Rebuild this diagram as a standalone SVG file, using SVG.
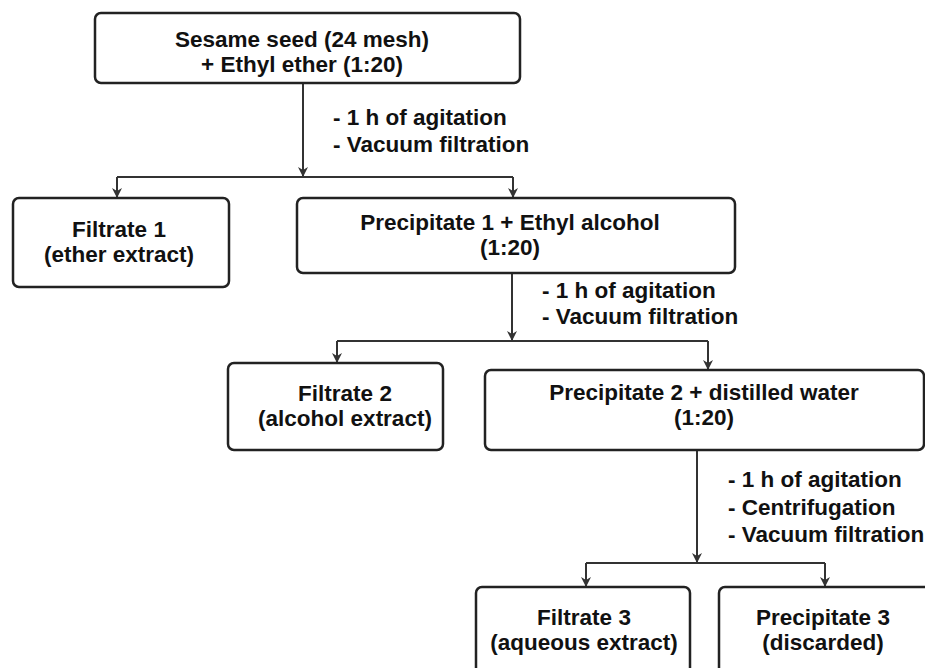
<svg xmlns="http://www.w3.org/2000/svg" width="925" height="668" viewBox="0 0 925 668">
<defs>
<style>
.box{fill:#fff;stroke:#222;stroke-width:2.5}
.t{font-family:"Liberation Sans",Arial,sans-serif;font-weight:bold;font-size:22.5px;fill:#111;text-anchor:middle}
.l{font-family:"Liberation Sans",Arial,sans-serif;font-weight:bold;font-size:22.5px;fill:#111}
.c{fill:none;stroke:#333;stroke-width:2}
</style>
<marker id="ah" markerUnits="userSpaceOnUse" markerWidth="12" markerHeight="12" viewBox="0 0 12 12" refX="11" refY="6" orient="auto">
<path d="M1,1 L11,6 L1,11 L4,6 Z" fill="#333"/>
</marker>
</defs>
<rect width="925" height="668" fill="#fff"/>
<g id="connectors">
<path class="c" d="M303,84 V177" marker-end="url(#ah)"/>
<path class="c" d="M117,177 H513"/>
<path class="c" d="M117,177 V198" marker-end="url(#ah)"/>
<path class="c" d="M513,177 V198" marker-end="url(#ah)"/>
<path class="c" d="M512,273 V341" marker-end="url(#ah)"/>
<path class="c" d="M337,341 H708"/>
<path class="c" d="M337,341 V363" marker-end="url(#ah)"/>
<path class="c" d="M708,341 V370" marker-end="url(#ah)"/>
<path class="c" d="M697,450 V563" marker-end="url(#ah)"/>
<path class="c" d="M586,563 H825"/>
<path class="c" d="M586,563 V587" marker-end="url(#ah)"/>
<path class="c" d="M825,563 V587" marker-end="url(#ah)"/>
</g>
<g id="labels">
<text class="l" x="333" y="125">- 1 h of agitation</text>
<text class="l" x="333" y="152">- Vacuum filtration</text>
<text class="l" x="542" y="298">- 1 h of agitation</text>
<text class="l" x="542" y="324">- Vacuum filtration</text>
<text class="l" x="728" y="487">- 1 h of agitation</text>
<text class="l" x="728" y="515">- Centrifugation</text>
<text class="l" x="728" y="542">- Vacuum filtration</text>
</g>
<g id="n-start">
<rect class="box" x="95" y="13" width="425" height="70" rx="6"/>
<text class="t" x="302" y="47">Sesame seed (24 mesh)</text>
<text class="t" x="302" y="72">+ Ethyl ether (1:20)</text>
</g>
<g id="n-filtrate1">
<rect class="box" x="13" y="198" width="216" height="89" rx="6"/>
<text class="t" x="119" y="237">Filtrate 1</text>
<text class="t" x="119" y="262">(ether extract)</text>
</g>
<g id="n-precipitate1">
<rect class="box" x="297" y="198" width="438" height="75" rx="6"/>
<text class="t" x="510" y="230">Precipitate 1 + Ethyl alcohol</text>
<text class="t" x="510" y="255">(1:20)</text>
</g>
<g id="n-filtrate2">
<rect class="box" x="228" y="363" width="215" height="87" rx="6"/>
<text class="t" x="345" y="401">Filtrate 2</text>
<text class="t" x="345" y="426">(alcohol extract)</text>
</g>
<g id="n-precipitate2">
<rect class="box" x="485" y="370" width="439" height="80" rx="6"/>
<text class="t" x="704" y="400">Precipitate 2 + distilled water</text>
<text class="t" x="704" y="425">(1:20)</text>
</g>
<g id="n-filtrate3">
<rect class="box" x="476" y="587" width="214" height="100" rx="6"/>
<text class="t" x="584" y="625">Filtrate 3</text>
<text class="t" x="584" y="650">(aqueous extract)</text>
</g>
<g id="n-precipitate3">
<rect class="box" x="719" y="587" width="230" height="100" rx="6"/>
<text class="t" x="823" y="625">Precipitate 3</text>
<text class="t" x="823" y="650">(discarded)</text>
</g>
</svg>
